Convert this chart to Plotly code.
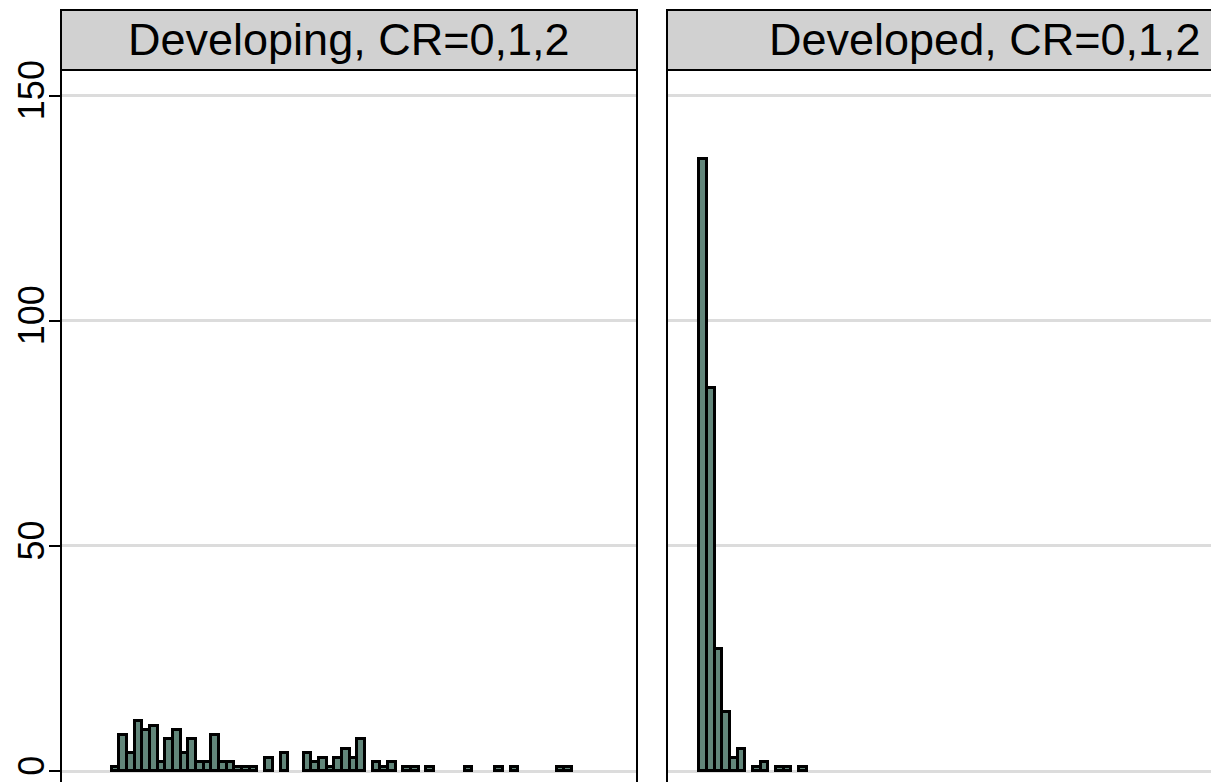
import plotly.graph_objects as go

# Histogram bin counts (bins of equal width, indexed from the first bin)
developing_counts = [1, 8, 4, 11, 9, 10, 2, 7, 9, 4, 7, 2, 2, 8, 2, 2, 1, 1, 1, 0,
                     3, 0, 4, 0, 0, 4, 2, 3, 1, 3, 5, 3, 7, 0, 2, 1, 2, 0, 1, 1,
                     0, 1, 0, 0, 0, 0, 1, 0, 0, 0, 1, 0, 1, 0, 0, 0, 0, 0, 1, 1]
developed_counts = [136, 85, 27, 13, 3, 5, 0, 1, 2, 0, 1, 1, 0, 1]

panel_titles = ["Developing, CR=0,1,2", "Developed, CR=0,1,2"]
y_ticks = [0, 50, 100, 150]
y_tick_labels = ["0", "50", "100", "150"]

W, H = 1211, 782
FONT = "Arial, 'Liberation Sans', sans-serif"
BAR_FILL = "rgb(98,134,122)"
GRID = "rgb(220,220,220)"


def px_x(p):
    return p / W


def px_y(p):
    return 1 - p / H


def nonzero(counts):
    xs = [i for i, c in enumerate(counts) if c > 0]
    ys = [c for c in counts if c > 0]
    return xs, ys


fig = go.Figure()

x1, y1 = nonzero(developing_counts)
x2, y2 = nonzero(developed_counts)

bar_style = dict(width=1.0, marker=dict(color=BAR_FILL, line=dict(color="black", width=3)),
                 showlegend=False, hoverinfo="x+y")
fig.add_trace(go.Bar(x=x1, y=y1, xaxis="x", yaxis="y", **bar_style))
fig.add_trace(go.Bar(x=x2, y=y2, xaxis="x2", yaxis="y2", **bar_style))

plot_top = 70
ydom = [0, px_y(plot_top)]
yrange = [-2.44, 155.67]

common_y = dict(range=yrange, domain=ydom, tickvals=y_ticks, showgrid=True,
                gridcolor=GRID, gridwidth=2.5, zeroline=False, showline=False,
                fixedrange=True, automargin=False)

fig.update_layout(
    template="none",
    width=W, height=H,
    margin=dict(l=0, r=0, t=0, b=0, pad=0, autoexpand=False),
    paper_bgcolor="white", plot_bgcolor="white",
    font=dict(family=FONT, color="black"),
    bargap=0,
    xaxis=dict(domain=[px_x(61), px_x(637)], range=[-7.119, 67.98], automargin=False,
               showticklabels=False, showgrid=False, zeroline=False, ticks="", showline=False),
    xaxis2=dict(domain=[px_x(667), 1.0], range=[-4.694, 66.23], automargin=False,
                showticklabels=False, showgrid=False, zeroline=False, ticks="", showline=False),
    yaxis=dict(ticktext=y_tick_labels, tickmode="array", ticks="outside",
               ticklen=11, tickwidth=2, tickcolor="black", tickangle=-90,
               tickfont=dict(size=36, family=FONT, color="black"),
               ticklabelstandoff=-9,
               anchor="x", **common_y),
    yaxis2=dict(showticklabels=False, ticks="", anchor="x2", **common_y),
)

shapes = []
line = dict(color="black", width=2)
# Panel frames
for x in (61, 637, 667):
    shapes.append(dict(type="line", xref="paper", yref="paper",
                       x0=px_x(x), x1=px_x(x), y0=px_y(plot_top), y1=-0.05, line=line))
# Strip headers
shapes.append(dict(type="rect", xref="paper", yref="paper", x0=px_x(61), x1=px_x(637),
                   y0=px_y(plot_top), y1=px_y(10), fillcolor="rgb(209,209,209)", line=line,
                   layer="above"))
shapes.append(dict(type="rect", xref="paper", yref="paper", x0=px_x(667), x1=1.05,
                   y0=px_y(plot_top), y1=px_y(10), fillcolor="rgb(209,209,209)", line=line,
                   layer="above"))
fig.update_layout(shapes=shapes)

for title, cx in zip(panel_titles, (349, 985)):
    fig.add_annotation(text=title, xref="paper", yref="paper", x=px_x(cx), y=px_y(40),
                       xanchor="center", yanchor="middle", showarrow=False,
                       font=dict(size=45, family=FONT, color="black"))

fig.write_html(
    "out.html",
    config={"displayModeBar": False},
    post_script="document.body.style.margin='0';document.body.style.overflow='hidden';",
)
